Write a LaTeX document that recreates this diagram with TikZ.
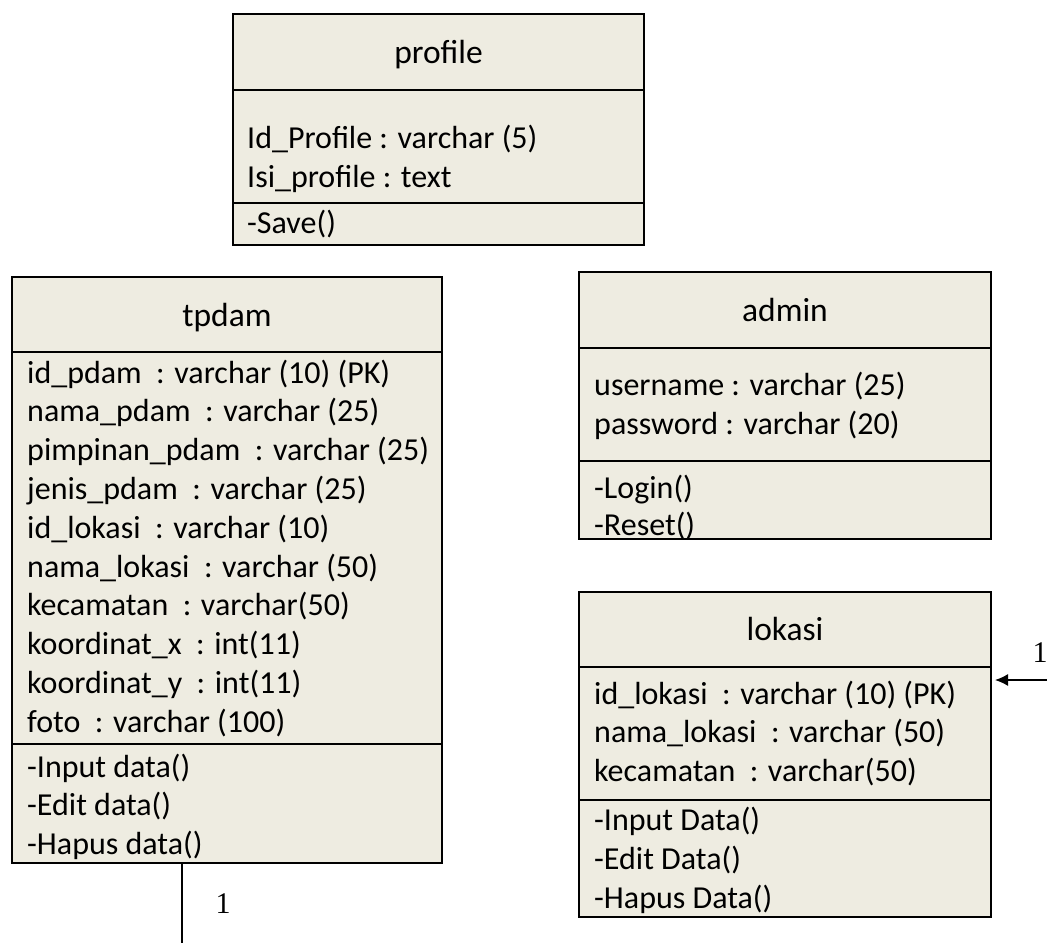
\documentclass[tikz,border=0pt]{standalone}
\usepackage{fontspec}
\setmainfont{Carlito}
\newfontfamily\onefont{Liberation Serif}
\usepackage{xcolor}
\usetikzlibrary{arrows.meta, positioning}
\definecolor{classfill}{HTML}{EEECE1}

\begin{document}
\begin{tikzpicture}[x=1pt, y=-1pt,
    classbox/.style={draw, line width=2.2pt, fill=classfill, inner sep=0pt},
    divider/.style={line width=2.2pt},
    classname/.style={font=\fontsize{33.5}{40}\selectfont, anchor=base, inner sep=0pt},
    member/.style={font=\fontsize{32}{38}\selectfont, anchor=base west, inner sep=0pt},
    multiplicity/.style={font=\onefont\fontsize{30}{36}\selectfont, anchor=base, inner sep=0pt},
    link/.style={line width=2pt}]
    \useasboundingbox (0,0) rectangle (1047,943);

    % profile
    \node[classbox, minimum width=411, minimum height=231] (profile) at (438.5,129.5) {};
    \draw[divider] (233,90) -- (644,90) (233,203) -- (644,203);
    \node[classname] (profile-name) at (438.5,63) {profile};
    \node[member] (profile-a1) at (247,148) {Id\_Profile : varchar (5)};
    \node[member] (profile-a2) at (247,187) {Isi\_profile : text};
    \node[member] (profile-m1) at (247,233) {-Save()};

    % tpdam
    \node[classbox, minimum width=430, minimum height=586] (tpdam) at (227,570) {};
    \draw[divider] (12,352) -- (442,352) (12,744) -- (442,744);
    \node[classname] (tpdam-name) at (227,326) {tpdam};
    \foreach \t [count=\i from 0] in {id\_pdam~~: varchar (10) (PK),
            nama\_pdam~~: varchar (25), pimpinan\_pdam~~: varchar (25),
            jenis\_pdam~~: varchar (25), id\_lokasi~~: varchar (10),
            nama\_lokasi~~: varchar (50), kecamatan~~: varchar(50),
            koordinat\_x~~: int(11), koordinat\_y~~: int(11),
            foto~~: varchar (100)}
        \node[member] (tpdam-a\i) at (27,383+38.8*\i) {\t};
    \foreach \t [count=\i from 0] in {-Input data(), -Edit data(), -Hapus data()}
        \node[member] (tpdam-m\i) at (27,777+38.6*\i) {\t};

    % admin
    \node[classbox, minimum width=412, minimum height=267] (admin) at (785,405.5) {};
    \draw[divider] (579,348) -- (991,348) (579,461) -- (991,461);
    \node[classname] (admin-name) at (785,321.7) {admin};
    \node[member] (admin-a1) at (594,395) {username : varchar (25)};
    \node[member] (admin-a2) at (594,434) {password : varchar (20)};
    \node[member] (admin-m1) at (594,498) {-Login()};
    \node[member] (admin-m2) at (594,535) {-Reset()};

    % lokasi
    \node[classbox, minimum width=412, minimum height=325] (lokasi) at (785,754.5) {};
    \draw[divider] (579,667) -- (991,667) (579,800) -- (991,800);
    \node[classname] (lokasi-name) at (785,640) {lokasi};
    \foreach \t [count=\i from 0] in {id\_lokasi~~: varchar (10) (PK),
            nama\_lokasi~~: varchar (50), kecamatan~~: varchar(50)}
        \node[member] (lokasi-a\i) at (594,704+38.8*\i) {\t};
    \foreach \t [count=\i from 0] in {-Input Data(), -Edit Data(), -Hapus Data()}
        \node[member] (lokasi-m\i) at (594,830+39*\i) {\t};

    % links
    \coordinate (tpdam-foot) at (182,863);
    \coordinate (tpdam-out) at (182,943);
    \draw[link] (tpdam-foot) -- (tpdam-out);
    \node[multiplicity] (tpdam-one) at (223,913) {1};
    \coordinate (lokasi-in) at (1047,680);
    \coordinate (lokasi-tip) at (995,680);
    \draw[line width=1.3pt, -{Latex[length=13pt, width=12pt]}] (lokasi-in) -- (lokasi-tip);
    \node[multiplicity] (lokasi-one) at (1040,662) {1};
\end{tikzpicture}
\end{document}
